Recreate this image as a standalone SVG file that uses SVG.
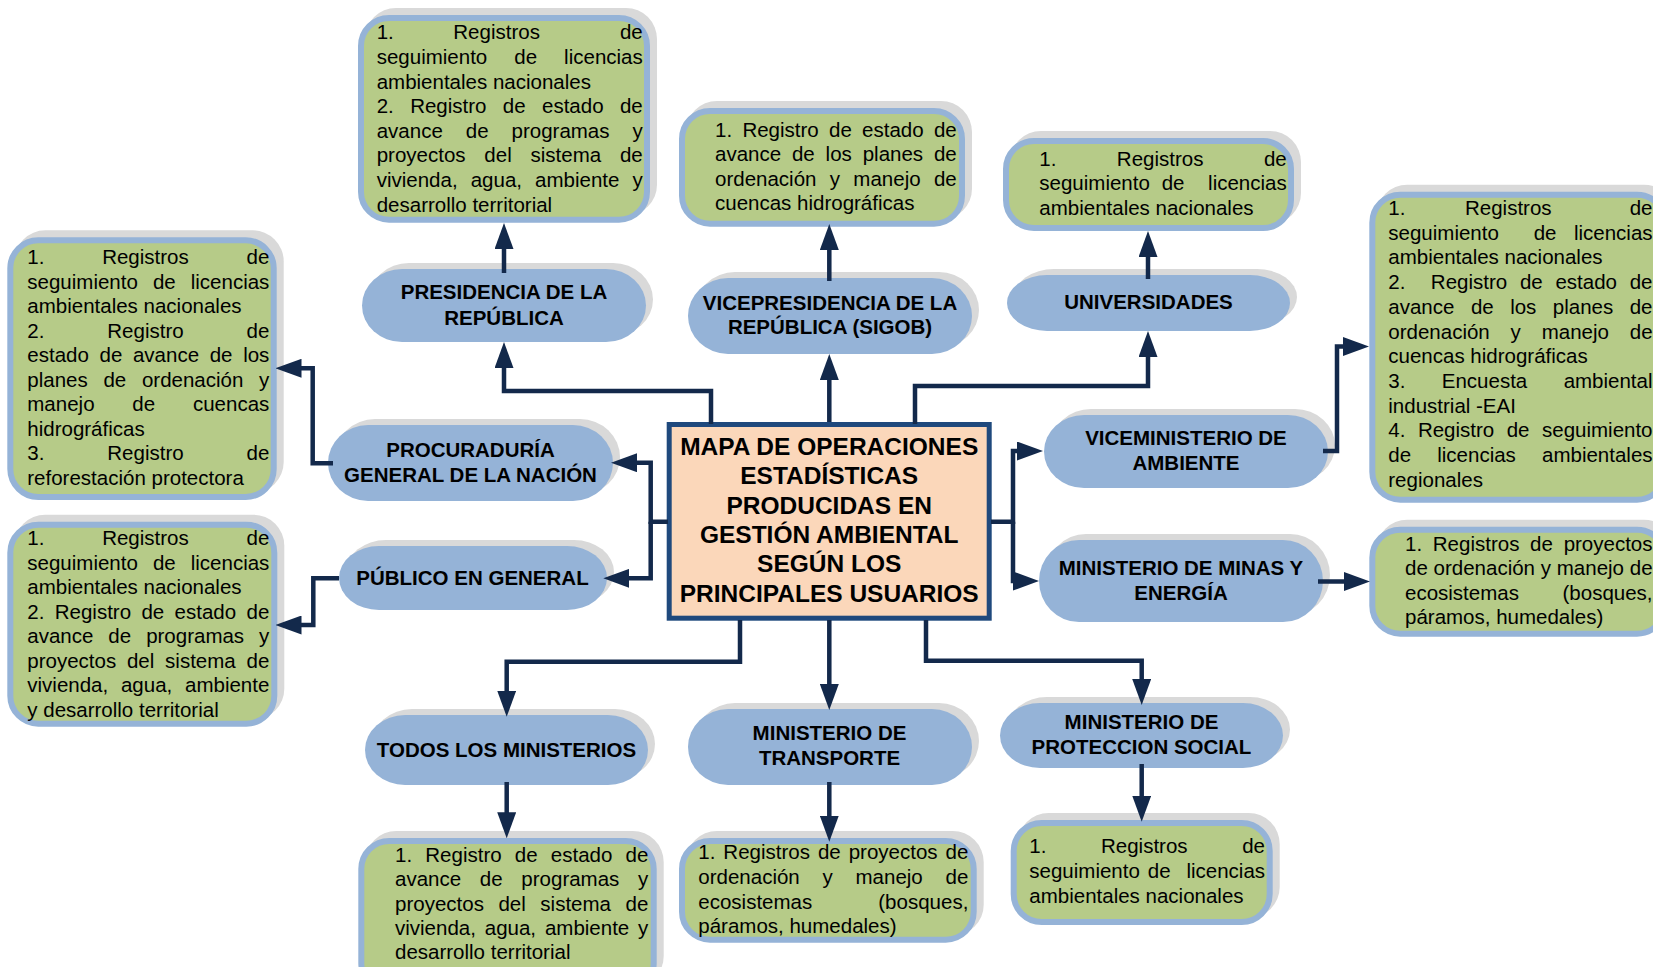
<svg xmlns="http://www.w3.org/2000/svg" width="1653" height="967" viewBox="0 0 1653 967">
<defs>
<style>
.sh{fill:#D9D9D9}
.pill{fill:#95B3D7}
.box{fill:#B6CB88;stroke:#95B3D7;stroke-width:6}
.pt{font-family:"Liberation Sans",Arial,sans-serif;font-weight:bold;font-size:20.5px;text-anchor:middle;fill:#000}
.bt{font-family:"Liberation Sans",Arial,sans-serif;font-size:20.5px;fill:#000}
.ct{font-family:"Liberation Sans",Arial,sans-serif;font-weight:bold;font-size:24.5px;text-anchor:middle;fill:#000}
.conn path{fill:none;stroke:#13294B;stroke-width:4.5;stroke-linejoin:miter}
.conn path.a{marker-end:url(#arr)}
</style>
<marker id="arr" markerUnits="userSpaceOnUse" markerWidth="26" markerHeight="19" refX="4" refY="9.5" orient="auto" viewBox="0 0 26 19">
<path d="M0,0 L26,9.5 L0,19 z" fill="#13294B"/>
</marker>
</defs>
<rect width="1653" height="967" fill="#fff"/>

<g id="centro">
<rect x="669.2" y="424.5" width="320" height="193.7" fill="#FBD7BA" stroke="#1F497D" stroke-width="5"/>
<text class="ct" x="829.2" y="455">MAPA DE OPERACIONES</text>
<text class="ct" x="829.2" y="484.3">ESTADÍSTICAS</text>
<text class="ct" x="829.2" y="513.6">PRODUCIDAS EN</text>
<text class="ct" x="829.2" y="542.9">GESTIÓN AMBIENTAL</text>
<text class="ct" x="829.2" y="572.2">SEGÚN LOS</text>
<text class="ct" x="829.2" y="601.5">PRINCIPALES USUARIOS</text>
</g>

<g id="presidencia">
<rect class="sh" x="369" y="263" width="284" height="73" rx="40" ry="36.5"/>
<rect class="pill" x="362" y="269" width="284" height="73" rx="40" ry="36.5"/>
<text class="pt" x="504" y="299.3">PRESIDENCIA DE LA</text>
<text class="pt" x="504" y="325">REPÚBLICA</text>
</g>
<g id="presidencia-registros">
<rect class="sh" x="365" y="8" width="292" height="207.7" rx="31"/>
<rect class="box" x="361" y="18" width="286" height="201.7" rx="28"/>
<text class="bt" y="39.3"><tspan x="376.7">1.</tspan><tspan x="453.3">Registros</tspan><tspan x="619.9">de</tspan></text>
<text class="bt" x="376.7" y="63.9" style="word-spacing:21.35px">seguimiento de licencias</text>
<text class="bt" x="376.7" y="88.5">ambientales nacionales</text>
<text class="bt" x="376.7" y="113.1" style="word-spacing:10.66px">2. Registro de estado de</text>
<text class="bt" x="376.7" y="137.7" style="word-spacing:17.27px">avance de programas y</text>
<text class="bt" x="376.7" y="162.3" style="word-spacing:13.09px">proyectos del sistema de</text>
<text class="bt" x="376.7" y="186.9" style="word-spacing:7.38px">vivienda, agua, ambiente y</text>
<text class="bt" x="376.7" y="211.5">desarrollo territorial</text>
</g>

<g id="vicepresidencia">
<rect class="sh" x="695" y="272" width="284" height="76" rx="40" ry="38"/>
<rect class="pill" x="688" y="278" width="284" height="76" rx="40" ry="38"/>
<text class="pt" x="830" y="310">VICEPRESIDENCIA DE LA</text>
<text class="pt" x="830" y="334.3">REPÚBLICA (SIGOB)</text>
</g>
<g id="vicepresidencia-registros">
<rect class="sh" x="686" y="101" width="286" height="118.7" rx="31"/>
<rect class="box" x="682" y="111" width="280" height="112.7" rx="28"/>
<text class="bt" x="715" y="136.7" style="word-spacing:4.59px">1. Registro de estado de</text>
<text class="bt" x="715" y="161.2" style="word-spacing:5.16px">avance de los planes de</text>
<text class="bt" x="715" y="185.7" style="word-spacing:7.64px">ordenación y manejo de</text>
<text class="bt" x="715" y="210.2">cuencas hidrográficas</text>
</g>

<g id="universidades">
<rect class="sh" x="1014" y="269" width="283" height="56" rx="40" ry="28"/>
<rect class="pill" x="1007" y="275" width="283" height="56" rx="40" ry="28"/>
<text class="pt" x="1148.5" y="309">UNIVERSIDADES</text>
</g>
<g id="universidades-registros">
<rect class="sh" x="1010" y="131" width="291" height="93" rx="31"/>
<rect class="box" x="1006" y="141" width="285" height="87" rx="28"/>
<text class="bt" x="1039.3" y="165.7" style="word-spacing:54.77px">1. Registros de</text>
<text class="bt" x="1039.3" y="190.4" xml:space="preserve" style="word-spacing:6.13px">seguimiento de  licencias</text>
<text class="bt" x="1039.3" y="215">ambientales nacionales</text>
</g>

<g id="viceministerio">
<rect class="sh" x="1051" y="409" width="284" height="73" rx="40" ry="36.5"/>
<rect class="pill" x="1044" y="415" width="284" height="73" rx="40" ry="36.5"/>
<text class="pt" x="1186" y="445">VICEMINISTERIO DE</text>
<text class="pt" x="1186" y="470">AMBIENTE</text>
</g>
<g id="viceministerio-registros">
<rect class="sh" x="1376.3" y="184.7" width="298.7" height="311" rx="31"/>
<rect class="box" x="1372.3" y="194.7" width="292.7" height="305" rx="28"/>
<text class="bt" y="215"><tspan x="1388.3">1.</tspan><tspan x="1465">Registros</tspan><tspan x="1629.7">de</tspan></text>
<text class="bt" x="1388.3" y="239.7" xml:space="preserve" style="word-spacing:11.73px">seguimiento  de licencias</text>
<text class="bt" x="1388.3" y="264.4">ambientales nacionales</text>
<text class="bt" x="1388.3" y="289.1" xml:space="preserve" style="word-spacing:7.03px">2.  Registro de estado de</text>
<text class="bt" x="1388.3" y="313.8" style="word-spacing:10.78px">avance de los planes de</text>
<text class="bt" x="1388.3" y="338.5" style="word-spacing:15.14px">ordenación y manejo de</text>
<text class="bt" x="1388.3" y="363.2">cuencas hidrográficas</text>
<text class="bt" x="1388.3" y="387.9" style="word-spacing:30.69px">3. Encuesta ambiental</text>
<text class="bt" x="1388.3" y="412.6">industrial -EAI</text>
<text class="bt" x="1388.3" y="437.3" style="word-spacing:6.79px">4. Registro de seguimiento</text>
<text class="bt" x="1388.3" y="462" style="word-spacing:20.45px">de licencias ambientales</text>
<text class="bt" x="1388.3" y="486.7">regionales</text>
</g>

<g id="minas">
<rect class="sh" x="1046" y="534" width="284" height="82" rx="40" ry="41"/>
<rect class="pill" x="1039" y="540" width="284" height="82" rx="40" ry="41"/>
<text class="pt" x="1181" y="575">MINISTERIO DE MINAS Y</text>
<text class="pt" x="1181" y="600">ENERGÍA</text>
</g>
<g id="minas-registros">
<rect class="sh" x="1376.3" y="519.7" width="298.7" height="110" rx="31"/>
<rect class="box" x="1372.3" y="529.7" width="292.7" height="104" rx="28"/>
<text class="bt" x="1405" y="550.7" style="word-spacing:5.02px">1. Registros de proyectos</text>
<text class="bt" x="1405" y="575.2" style="word-spacing:0.06px">de ordenación y manejo de</text>
<text class="bt" x="1405" y="599.7" style="word-spacing:37.87px">ecosistemas (bosques,</text>
<text class="bt" x="1405" y="624.2">páramos, humedales)</text>
</g>

<g id="proteccion">
<rect class="sh" x="1007" y="697" width="283" height="65" rx="40" ry="32.5"/>
<rect class="pill" x="1000" y="703" width="283" height="65" rx="40" ry="32.5"/>
<text class="pt" x="1141.5" y="729">MINISTERIO DE</text>
<text class="pt" x="1141.5" y="754.3">PROTECCION SOCIAL</text>
</g>
<g id="proteccion-registros">
<rect class="sh" x="1017.7" y="813" width="262" height="105" rx="31"/>
<rect class="box" x="1013.7" y="823" width="256" height="99" rx="28"/>
<text class="bt" x="1029.3" y="853.3" style="word-spacing:48.92px">1. Registros de</text>
<text class="bt" x="1029.3" y="878" xml:space="preserve" style="word-spacing:2.23px">seguimiento de  licencias</text>
<text class="bt" x="1029.3" y="902.7">ambientales nacionales</text>
</g>

<g id="transporte">
<rect class="sh" x="695" y="703" width="284" height="76" rx="40" ry="38"/>
<rect class="pill" x="688" y="709" width="284" height="76" rx="40" ry="38"/>
<text class="pt" x="829.5" y="740">MINISTERIO DE</text>
<text class="pt" x="829.5" y="765">TRANSPORTE</text>
</g>
<g id="transporte-registros">
<rect class="sh" x="686" y="831" width="297.7" height="104.7" rx="31"/>
<rect class="box" x="682" y="841" width="291.7" height="98.7" rx="28"/>
<text class="bt" x="698.3" y="859.3" style="word-spacing:2.27px">1. Registros de proyectos de</text>
<text class="bt" x="698.3" y="883.9" style="word-spacing:17.07px">ordenación y manejo de</text>
<text class="bt" x="698.3" y="908.5" style="word-spacing:60.37px">ecosistemas (bosques,</text>
<text class="bt" x="698.3" y="933.1">páramos, humedales)</text>
</g>

<g id="todos">
<rect class="sh" x="372" y="709" width="283" height="70" rx="40" ry="35"/>
<rect class="pill" x="365" y="715" width="283" height="70" rx="40" ry="35"/>
<text class="pt" x="506.5" y="756.7">TODOS LOS MINISTERIOS</text>
</g>
<g id="todos-registros">
<rect class="sh" x="365.3" y="831" width="298.4" height="156" rx="31"/>
<rect class="box" x="361.3" y="841" width="292.4" height="150" rx="28"/>
<text class="bt" x="395" y="861.7" style="word-spacing:7.49px">1. Registro de estado de</text>
<text class="bt" x="395" y="886.1" style="word-spacing:13.03px">avance de programas y</text>
<text class="bt" x="395" y="910.5" style="word-spacing:8.86px">proyectos del sistema de</text>
<text class="bt" x="395" y="934.9" style="word-spacing:3.15px">vivienda, agua, ambiente y</text>
<text class="bt" x="395" y="959.3">desarrollo territorial</text>
</g>

<g id="procuraduria">
<rect class="sh" x="335" y="419" width="285" height="76" rx="40" ry="38"/>
<rect class="pill" x="328" y="425" width="285" height="76" rx="40" ry="38"/>
<text class="pt" x="470.5" y="456.7">PROCURADURÍA</text>
<text class="pt" x="470.5" y="481.7">GENERAL DE LA NACIÓN</text>
</g>
<g id="procuraduria-registros">
<rect class="sh" x="14.3" y="230.3" width="269.4" height="262.7" rx="31"/>
<rect class="box" x="10.3" y="240.3" width="263.4" height="256.7" rx="28"/>
<text class="bt" x="27.3" y="264.3" style="word-spacing:52.07px">1. Registros de</text>
<text class="bt" x="27.3" y="288.8" style="word-spacing:9.35px">seguimiento de licencias</text>
<text class="bt" x="27.3" y="313.3">ambientales nacionales</text>
<text class="bt" x="27.3" y="337.8" style="word-spacing:57.2px">2. Registro de</text>
<text class="bt" x="27.3" y="362.3" style="word-spacing:4.95px">estado de avance de los</text>
<text class="bt" x="27.3" y="386.8" style="word-spacing:10.02px">planes de ordenación y</text>
<text class="bt" x="27.3" y="411.3" style="word-spacing:32.12px">manejo de cuencas</text>
<text class="bt" x="27.3" y="435.8">hidrográficas</text>
<text class="bt" x="27.3" y="460.3" style="word-spacing:57.2px">3. Registro de</text>
<text class="bt" x="27.3" y="484.8">reforestación protectora</text>
</g>

<g id="publico">
<rect class="sh" x="346" y="540" width="268" height="64" rx="40" ry="32"/>
<rect class="pill" x="339" y="546" width="268" height="64" rx="40" ry="32"/>
<text class="pt" x="472.5" y="585">PÚBLICO EN GENERAL</text>
</g>
<g id="publico-registros">
<rect class="sh" x="14.3" y="514.7" width="270" height="205" rx="31"/>
<rect class="box" x="10.3" y="524.7" width="264" height="199" rx="28"/>
<text class="bt" x="27.3" y="545" style="word-spacing:52.07px">1. Registros de</text>
<text class="bt" x="27.3" y="569.5" style="word-spacing:9.35px">seguimiento de licencias</text>
<text class="bt" x="27.3" y="594">ambientales nacionales</text>
<text class="bt" x="27.3" y="618.5" style="word-spacing:4.66px">2. Registro de estado de</text>
<text class="bt" x="27.3" y="643" style="word-spacing:9.27px">avance de programas y</text>
<text class="bt" x="27.3" y="667.5" style="word-spacing:5.09px">proyectos del sistema de</text>
<text class="bt" x="27.3" y="692" style="word-spacing:7.05px">vivienda, agua, ambiente</text>
<text class="bt" x="27.3" y="716.5">y desarrollo territorial</text>
</g>

<g id="conectores" class="conn">
<path class="a" d="M711,424 V391 H504 V364"/>
<path class="a" d="M504,273 V245"/>
<path class="a" d="M829.3,422 V376"/>
<path class="a" d="M829.3,281 V246"/>
<path class="a" d="M915,424 V386 H1148 V353"/>
<path class="a" d="M1148,279 V253"/>
<path class="a" d="M991,521.7 H1013 V451 H1021"/>
<path class="a" d="M1013,521.7 V581 H1017"/>
<path class="a" d="M1323,451 H1337 V346.5 H1347"/>
<path class="a" d="M1318,581.5 H1348"/>
<path class="a" d="M668,521.7 H650.7 V462.7 H633"/>
<path class="a" d="M650.7,521.7 V578.3 H625.3"/>
<path class="a" d="M333,463.3 H312.7 V368.3 H297.5"/>
<path class="a" d="M339,578.3 H313.3 V625 H297.5"/>
<path class="a" d="M740,620 V661.7 H506.7 V694.7"/>
<path class="a" d="M829.3,620 V688"/>
<path class="a" d="M926,620 V660.7 H1141.7 V683"/>
<path class="a" d="M506.7,782 V816.3"/>
<path class="a" d="M829.3,782 V819.7"/>
<path class="a" d="M1141.7,764 V799.7"/>
</g>
</svg>
